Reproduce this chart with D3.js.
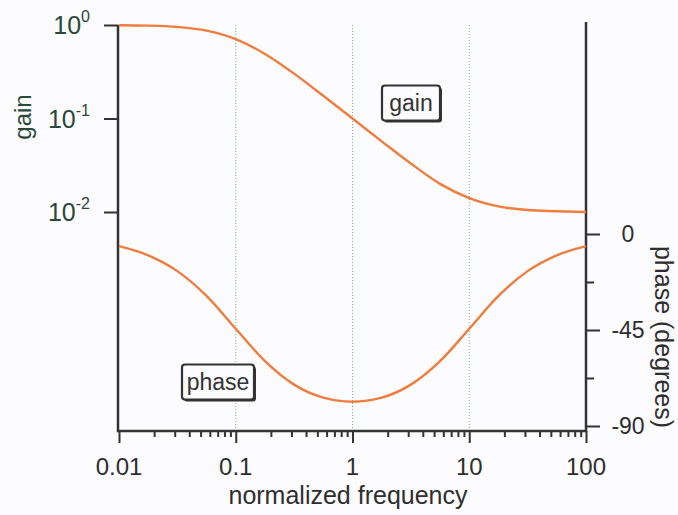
<!doctype html>
<html>
<head>
<script src="https://cdnjs.cloudflare.com/ajax/libs/d3/7.8.5/d3.min.js"></script>
<style>
  body { margin: 0; background: #fcfbfe; }
  svg { display: block; font-family: "Liberation Sans", Arial, sans-serif; }
</style>
</head>
<body>
<svg width="678" height="515"></svg>
<script>
    // values
    var freq = [0.01, 0.0178, 0.0316, 0.0562, 0.1, 0.178, 0.316, 0.562, 1, 1.78, 3.16, 5.62, 10, 17.8, 31.6, 56.2, 100];
    var gain = [0.995, 0.985, 0.953, 0.872, 0.707, 0.490, 0.302, 0.175, 0.100, 0.057, 0.033, 0.020, 0.0141, 0.0115, 0.0105, 0.0102, 0.0100];
    var phase = [-5.7, -10, -17.4, -29, -44.4, -59.6, -70.6, -76.7, -78.6, -76.7, -70.6, -59.6, -44.4, -29, -17.4, -10, -5.7];

    var xTicks = [0.01, 0.1, 1, 10, 100];
    var xLabels = ["0.01", "0.1", "1", "10", "100"];
    var gainTicks = [1, 0.1, 0.01];
    var gainExp = ["0", "-1", "-2"];
    var phaseTicks = [0, -45, -90];
    var phaseMinor = [-22.5, -67.5];
    var gridAt = [0.1, 1, 10];

    var svg = d3.select("svg");
    var left = 118, right = 586, bottom = 431;

    var x = d3.scaleLog().domain([0.01, 100]).range([119, 586]);
    var yGain = d3.scaleLog().domain([0.01, 1]).range([212, 25]);
    var yPhase = d3.scaleLinear().domain([-90, 0]).range([426, 234]);

    // dotted grid
    svg.selectAll("line.grid")
        .data(gridAt)
        .enter()
        .append("line")
        .attr("class", "grid")
        .attr("x1", d => x(d)).attr("x2", d => x(d))
        .attr("y1", 25).attr("y2", bottom)
        .style("stroke", "#86a69c")
        .style("stroke-width", 1)
        .style("stroke-dasharray", "1,2");

    // bottom axis with minor ticks
    var minor = [];
    [0.01, 0.1, 1, 10].forEach(function (dec) {
        for (var k = 1; k < 10; k++) minor.push(dec * k);
    });
    minor.push(100);

    var xa = svg.append("g")
        .attr("transform", "translate(0," + bottom + ")")
        .call(d3.axisBottom(x).tickValues(minor).tickSize(12).tickSizeOuter(0).tickFormat(""));
    xa.select(".domain").remove();
    xa.selectAll(".tick line")
        .attr("y2", d => xTicks.indexOf(d) >= 0 ? 12 : 6)
        .style("stroke", "#333")
        .style("stroke-width", 2);

    svg.selectAll("text.xl")
        .data(xTicks)
        .enter()
        .append("text")
        .attr("class", "xl")
        .attr("x", d => x(d))
        .attr("y", 475)
        .attr("text-anchor", "middle")
        .style("font-size", "24px")
        .style("fill", "#2e2e2e")
        .text((d, i) => xLabels[i]);

    // left gain axis
    var ya = svg.append("g")
        .attr("transform", "translate(" + left + ",0)")
        .call(d3.axisLeft(yGain).tickValues(gainTicks).tickSize(14).tickFormat(""));
    ya.select(".domain").remove();
    ya.selectAll(".tick line").style("stroke", "#333").style("stroke-width", 2);

    var gl = svg.selectAll("text.gl")
        .data(gainTicks)
        .enter()
        .append("text")
        .attr("class", "gl")
        .attr("x", 90)
        .attr("y", d => yGain(d) + 9)
        .attr("text-anchor", "end")
        .style("fill", "#2a4739");
    gl.append("tspan").style("font-size", "25px").text("10");
    gl.append("tspan")
        .attr("dy", -12)
        .style("font-size", "16px")
        .text((d, i) => gainExp[i]);

    // right phase axis
    var pa = svg.append("g")
        .attr("transform", "translate(" + right + ",0)")
        .call(d3.axisRight(yPhase).tickValues(phaseTicks.concat(phaseMinor)).tickSize(14).tickFormat(""));
    pa.select(".domain").remove();
    pa.selectAll(".tick line")
        .attr("x2", d => phaseTicks.indexOf(d) >= 0 ? 14 : 8)
        .style("stroke", "#333")
        .style("stroke-width", 2);

    svg.selectAll("text.pl")
        .data(phaseTicks)
        .enter()
        .append("text")
        .attr("class", "pl")
        .attr("x", 628)
        .attr("y", d => yPhase(d) + 8)
        .attr("text-anchor", "middle")
        .style("font-size", "23px")
        .style("fill", "#2e2e2e")
        .text(d => d);

    // frame lines
    svg.append("path")
        .attr("d", "M" + left + ",25V" + bottom + "H" + right + "V22")
        .style("fill", "none")
        .style("stroke", "#333")
        .style("stroke-width", 2.5);

    // curves
    var gainLine = d3.line()
        .x((d, i) => x(freq[i]))
        .y(d => yGain(d))
        .curve(d3.curveMonotoneX);
    var phaseLine = d3.line()
        .x((d, i) => x(freq[i]))
        .y(d => yPhase(d))
        .curve(d3.curveMonotoneX);

    svg.append("path").datum(gain).attr("d", gainLine)
        .style("fill", "none").style("stroke", "#f07c3e").style("stroke-width", 2.4);
    svg.append("path").datum(phase).attr("d", phaseLine)
        .style("fill", "none").style("stroke", "#f07c3e").style("stroke-width", 2.4);

    // axis titles
    svg.append("text")
        .attr("transform", "translate(31,117) rotate(-90)")
        .attr("text-anchor", "middle")
        .style("font-size", "24px")
        .style("fill", "#2a4739")
        .text("gain");
    svg.append("text")
        .attr("transform", "translate(655,337) rotate(90)")
        .attr("text-anchor", "middle")
        .style("font-size", "25px")
        .style("fill", "#2e2e2e")
        .text("phase (degrees)");
    svg.append("text")
        .attr("x", 348)
        .attr("y", 504)
        .attr("text-anchor", "middle")
        .style("font-size", "25px")
        .style("fill", "#2e2e2e")
        .text("normalized frequency");

    // boxed labels
    function boxLabel(cx, cy, w, h, label) {
        svg.append("rect")
            .attr("x", cx - w / 2 + 2).attr("y", cy - h / 2 + 2)
            .attr("width", w).attr("height", h).attr("rx", 3)
            .style("fill", "#333");
        svg.append("rect")
            .attr("x", cx - w / 2).attr("y", cy - h / 2)
            .attr("width", w).attr("height", h).attr("rx", 3)
            .style("fill", "#fcfbfe").style("stroke", "#333").style("stroke-width", 2.2);
        svg.append("text")
            .attr("x", cx).attr("y", cy + 8)
            .attr("text-anchor", "middle")
            .style("font-size", "23px")
            .style("fill", "#333")
            .text(label);
    }
    boxLabel(411, 103, 58, 35, "gain");
    boxLabel(218, 382, 72, 35, "phase");
</script>
</body>
</html>
